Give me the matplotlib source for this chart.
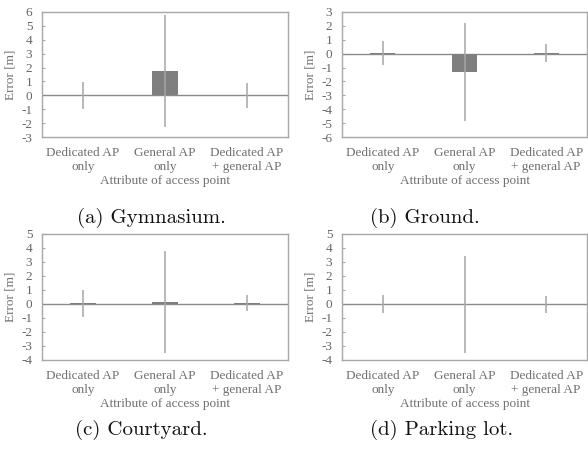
import matplotlib
matplotlib.use("Agg")
import matplotlib.pyplot as plt

categories = ["Dedicated AP\nonly", "General AP\nonly", "Dedicated AP\n+ general AP"]

gym_mean = [0.0, 1.75, 0.0]
gym_err = [0.95, 4.0, 0.92]

ground_mean = [0.02, -1.3, 0.05]
ground_err = [0.87, 3.52, 0.62]

court_mean = [0.05, 0.15, 0.05]
court_err = [0.97, 3.65, 0.57]

park_mean = [0.0, -0.02, -0.03]
park_err = [0.67, 3.48, 0.63]

captions = ["(a) Gymnasium.", "(b) Ground.", "(c) Courtyard.", "(d) Parking lot."]
ylims = [(-3, 6), (-6, 3), (-4, 5), (-4, 5)]

panels = [(gym_mean, gym_err), (ground_mean, ground_err),
          (court_mean, court_err), (park_mean, park_err)]

W, H = 588, 450
fig = plt.figure(figsize=(W / 100, H / 100), dpi=100)

# axes boxes in pixels: left, top, right, bottom
boxes = [(42, 12, 288, 137), (342, 12, 587, 137),
         (42, 234, 288, 360), (342, 234, 587, 360)]
# caption left x and baseline y in pixels
cap_pos = [(77, 223), (370, 223), (75, 435), (370, 435)]

serif = "Liberation Serif"
tick_col = "#666666"
lab_col = "#707070"
frame_col = "#a8a8a8"

for (mean, err), box, cap, yl, cp in zip(panels, boxes, captions, ylims, cap_pos):
    l, t, r, b = box
    ax = fig.add_axes([l / W, 1 - b / H, (r - l) / W, (b - t) / H])
    x = list(range(len(categories)))
    ax.bar(x, mean, width=0.31, color="#7f7f7f", zorder=3)
    ax.errorbar(x, mean, yerr=err, fmt="none", ecolor="#a6a6a6",
                elinewidth=1.1, capsize=0, zorder=4)
    ax.axhline(0, color="#8a8a8a", lw=1.0, zorder=2)
    ax.set_xlim(-0.5, 2.5)
    ax.set_ylim(*yl)
    ax.set_yticks(range(yl[0], yl[1] + 1))
    ax.set_yticklabels([str(v) for v in range(yl[0], yl[1] + 1)],
                       fontfamily=serif, fontsize=9.5, color=tick_col)
    ax.set_xticks(x)
    ax.set_xticklabels(categories, fontfamily=serif, fontsize=9.5,
                       color=lab_col, linespacing=1.3)
    ax.tick_params(axis="y", direction="in", length=2.5, width=0.8,
                   color=frame_col, pad=7)
    ax.tick_params(axis="x", length=0, pad=7)
    for s in ax.spines.values():
        s.set_color(frame_col)
        s.set_linewidth(1.0)
    ax.set_ylabel("Error [m]", fontfamily=serif, fontsize=9.5,
                  color=lab_col, labelpad=3)
    ax.set_xlabel("Attribute of access point", fontfamily=serif,
                  fontsize=9.5, color=lab_col, labelpad=1)
    fig.text(cp[0] / W, 1 - cp[1] / H, cap, fontfamily="cmr10",
             fontsize=15, ha="left", va="baseline", color="#111111")

fig.savefig("out.png", dpi=100, facecolor="white")
